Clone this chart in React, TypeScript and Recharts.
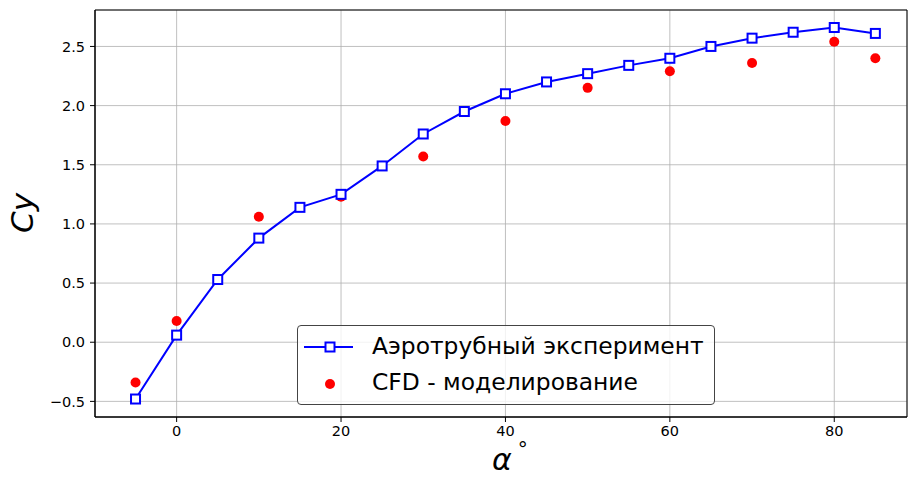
import {
  CartesianGrid,
  ComposedChart,
  Label,
  Line,
  ReferenceArea,
  Scatter,
  XAxis,
  YAxis,
} from 'recharts'

// angle of attack, deg
const alphaExp = [-5, 0, 5, 10, 15, 20, 25, 30, 35, 40, 45, 50, 55, 60, 65, 70, 75, 80, 85]
// wind tunnel Cy
const cyExp = [-0.48, 0.06, 0.53, 0.88, 1.14, 1.25, 1.49, 1.76, 1.95, 2.1, 2.2, 2.27, 2.34, 2.4, 2.5, 2.57, 2.62, 2.66, 2.61]

const alphaCfd = [-5, 0, 10, 20, 30, 40, 50, 60, 70, 80, 85]
const cyCfd = [-0.34, 0.18, 1.06, 1.23, 1.57, 1.87, 2.15, 2.29, 2.36, 2.54, 2.4]

const xTicks = [0, 20, 40, 60, 80]
const yTicks = [-0.5, 0, 0.5, 1, 1.5, 2, 2.5]
const xDomain = [-9.93, 88.85]
const yDomain = [-0.632, 2.808]

const expData = alphaExp.map((x, i) => ({ x, y: cyExp[i] }))
const cfdData = alphaCfd.map((x, i) => ({ x, y: cyCfd[i] }))

const FONT = '"DejaVu Sans", sans-serif'
const BLUE = '#0000ff'
const RED = '#ff0000'

const fmtY = (v: number) => (v < 0 ? `\u2212${Math.abs(v).toFixed(1)}` : v.toFixed(1))

function SquareDot(props: any) {
  const { cx, cy } = props
  if (cx == null || cy == null) return null
  return (
    <rect x={cx - 4.5} y={cy - 4.5} width={9} height={9} fill="#fff" stroke={BLUE} strokeWidth={2} />
  )
}

function RedDot(props: any) {
  const { cx, cy } = props
  return <circle cx={cx} cy={cy} r={5} fill={RED} />
}

function ChartLegend() {
  return (
    <div
      style={{
        position: 'absolute',
        left: 297,
        top: 325,
        width: 416,
        height: 78,
        border: '1px solid #444',
        borderRadius: 4,
        background: 'rgba(255,255,255,0.8)',
        fontFamily: FONT,
        fontSize: 23.4,
        color: '#000',
      }}
    >
      <svg width={60} height={78} style={{ position: 'absolute', left: 0, top: 0 }}>
        <line x1={6} x2={55} y1={21} y2={21} stroke={BLUE} strokeWidth={2} />
        <rect x={27.5} y={16.5} width={9} height={9} fill="#fff" stroke={BLUE} strokeWidth={2} />
        <circle cx={32} cy={58} r={5} fill={RED} />
      </svg>
      <div style={{ position: 'absolute', left: 74, top: 6, whiteSpace: 'nowrap' }}>
        Аэротрубный эксперимент
      </div>
      <div style={{ position: 'absolute', left: 74, top: 42, whiteSpace: 'nowrap' }}>
        CFD - моделирование
      </div>
    </div>
  )
}

export default function App() {
  return (
    <div style={{ position: 'absolute', left: 0, top: 0, width: 908, height: 479, background: '#fff' }}>
      <ComposedChart
        width={908}
        height={479}
        margin={{ top: 10, right: 1, left: 0, bottom: 0 }}
        style={{ fontFamily: FONT }}
      >
        <CartesianGrid stroke="#b0b0b0" strokeWidth={0.8} />
        <XAxis
          type="number"
          dataKey="x"
          domain={xDomain}
          ticks={xTicks}
          allowDataOverflow
          height={62}
          tickSize={5}
          tickMargin={4}
          axisLine={{ stroke: '#000' }}
          tickLine={{ stroke: '#000' }}
          tick={{ fill: '#000', fontSize: 14.5, fontFamily: FONT }}
        >
          <Label
            content={() => (
              <text x={492} y={470} fontFamily={FONT} fontSize={30} fontStyle="italic" fill="#000">
                α
                <tspan dx={6} dy={-14} fontSize={20} fontStyle="normal">
                  °
                </tspan>
              </text>
            )}
          />
        </XAxis>
        <YAxis
          type="number"
          dataKey="y"
          domain={yDomain}
          ticks={yTicks}
          allowDataOverflow
          width={95}
          tickSize={5}
          tickMargin={5}
          tickFormatter={fmtY}
          axisLine={{ stroke: '#000' }}
          tickLine={{ stroke: '#000' }}
          tick={{ fill: '#000', fontSize: 14.5, fontFamily: FONT }}
        >
          <Label
            content={() => (
              <text
                x={33}
                y={213}
                transform="rotate(-90 33 213)"
                textAnchor="middle"
                fontFamily={FONT}
                fontSize={31}
                fontStyle="italic"
                fill="#000"
              >
                Cy
              </text>
            )}
          />
        </YAxis>
        <ReferenceArea
          x1={xDomain[0]}
          x2={xDomain[1]}
          y1={yDomain[0]}
          y2={yDomain[1]}
          fill="none"
          stroke="#000"
          strokeWidth={1}
        />
        <Scatter data={cfdData} dataKey="y" fill={RED} shape={RedDot} isAnimationActive={false} />
        <Line
          data={expData}
          dataKey="y"
          type="linear"
          stroke={BLUE}
          strokeWidth={2}
          dot={SquareDot}
          activeDot={false}
          isAnimationActive={false}
        />
      </ComposedChart>
      <ChartLegend />
    </div>
  )
}
